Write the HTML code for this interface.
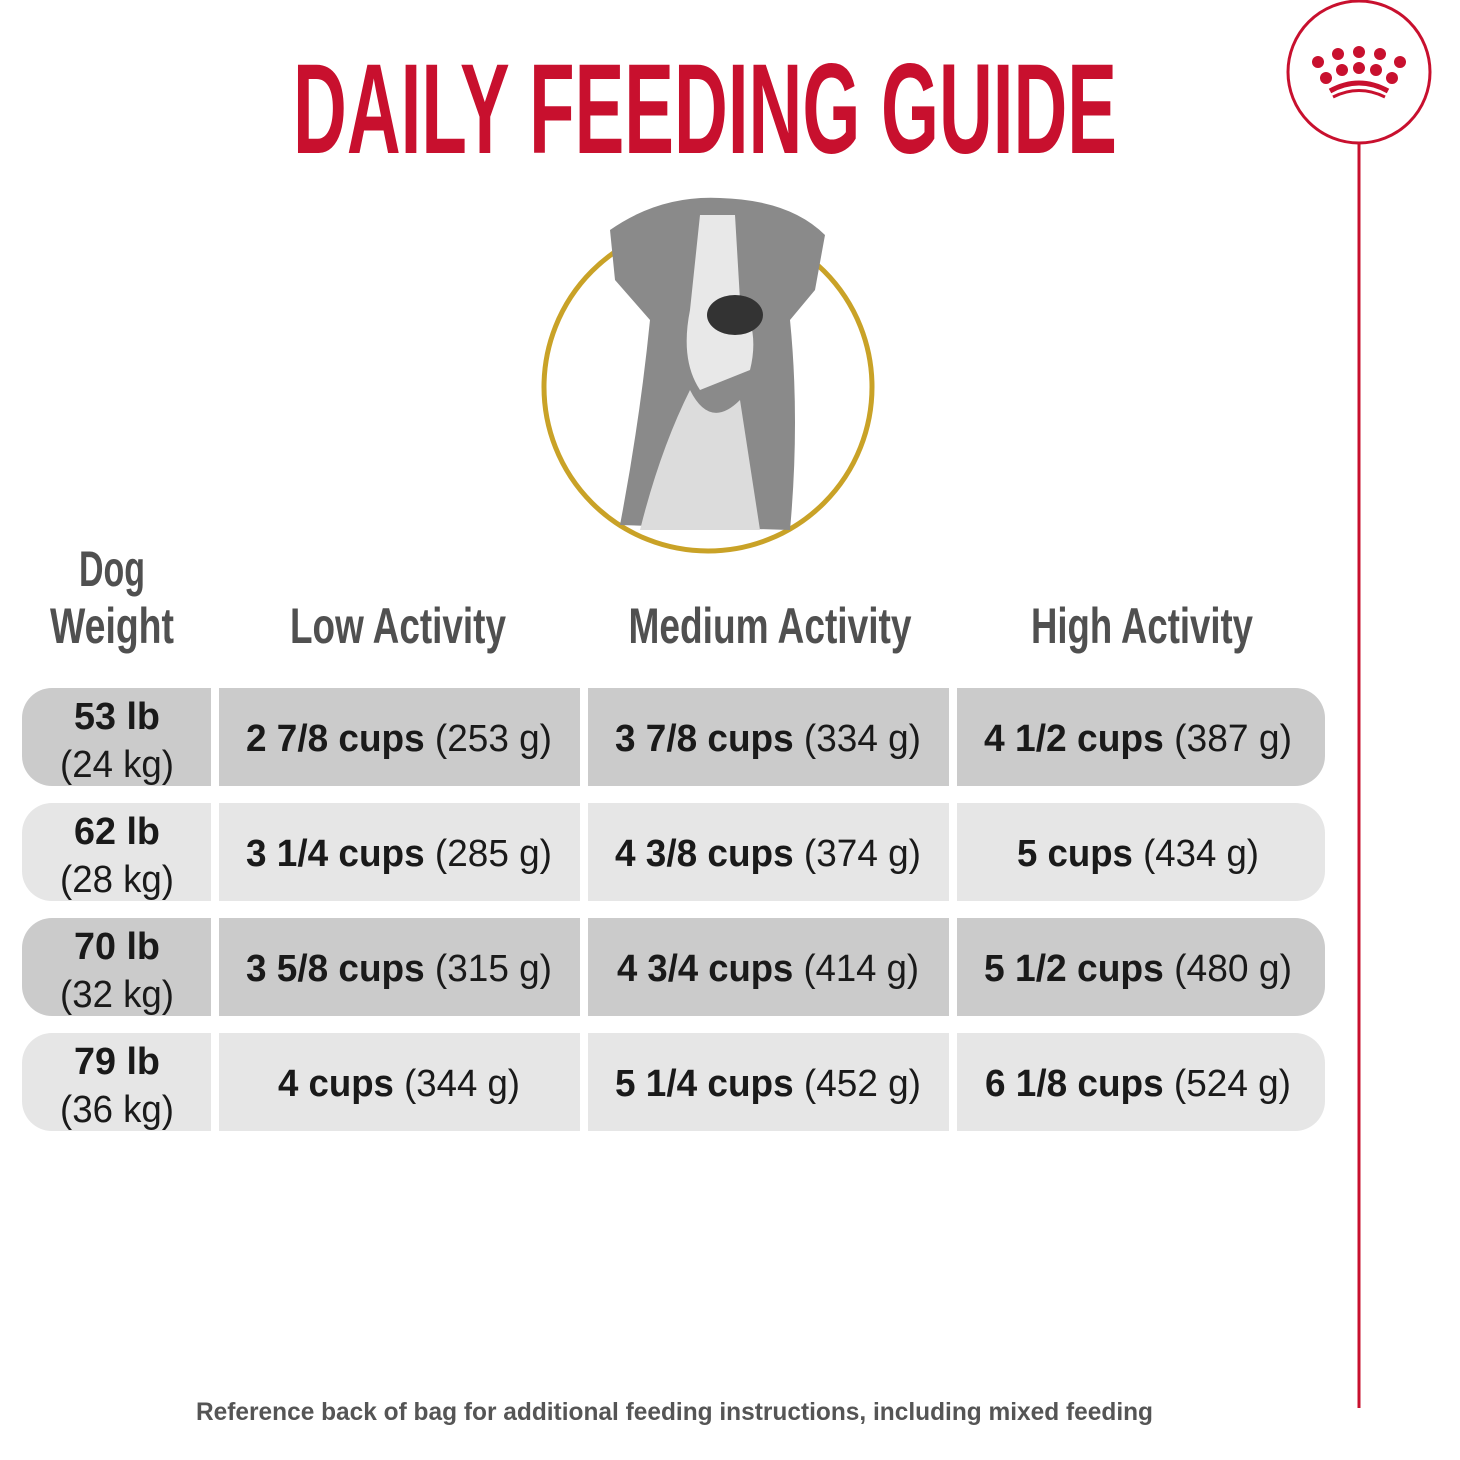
<!DOCTYPE html>
<html><head><meta charset="utf-8"><style>body{margin:0;background:#fff}svg{display:block}</style></head><body>
<svg width="1460" height="1460" viewBox="0 0 1460 1460" xmlns="http://www.w3.org/2000/svg" font-family="Liberation Sans, sans-serif">
<rect width="1460" height="1460" fill="#fff"/>
<text x="293" y="153" font-size="128" font-weight="bold" fill="#c8102e" textLength="824" lengthAdjust="spacingAndGlyphs">DAILY FEEDING GUIDE</text>
<circle cx="1359" cy="72" r="71" fill="none" stroke="#c8102e" stroke-width="3"/>
<line x1="1359" y1="143" x2="1359" y2="1408" stroke="#c8102e" stroke-width="3"/>
<g fill="#c8102e">
<circle cx="1318" cy="62" r="6"/><circle cx="1338" cy="54" r="6"/><circle cx="1359" cy="52" r="6"/><circle cx="1380" cy="54" r="6"/><circle cx="1400" cy="62" r="6"/>
<circle cx="1326" cy="78" r="6"/><circle cx="1342" cy="70" r="6"/><circle cx="1359" cy="68" r="6"/><circle cx="1376" cy="70" r="6"/><circle cx="1392" cy="78" r="6"/>
</g>
<path d="M1330 91 Q1359 75 1388 91" fill="none" stroke="#c8102e" stroke-width="5"/>
<path d="M1333 97 Q1359 84 1385 97" fill="none" stroke="#c8102e" stroke-width="3"/>
<circle cx="708" cy="387" r="164" fill="#fff" stroke="#c9a227" stroke-width="5"/>
<path d="M610 230 Q660 195 720 198 Q790 200 825 235 L815 290 L790 320 Q800 420 790 530 L620 525 Q640 420 650 320 L615 280 Z" fill="#8a8a8a"/>
<path d="M700 215 L735 215 L740 300 Q760 330 750 370 L700 390 Q680 360 690 310 Z" fill="#e8e8e8"/>
<path d="M690 390 Q710 430 740 400 L760 530 L640 530 Q660 450 690 390Z" fill="#dcdcdc"/>
<ellipse cx="735" cy="315" rx="28" ry="20" fill="#333"/>
<g fill="#505050" font-size="50" font-weight="bold" text-anchor="middle">
<text x="112" y="586" textLength="66" lengthAdjust="spacingAndGlyphs">Dog</text>
<text x="112" y="643" textLength="124" lengthAdjust="spacingAndGlyphs">Weight</text>
<text x="398" y="643" textLength="216" lengthAdjust="spacingAndGlyphs">Low Activity</text>
<text x="770" y="643" textLength="283" lengthAdjust="spacingAndGlyphs">Medium Activity</text>
<text x="1142" y="643" textLength="222" lengthAdjust="spacingAndGlyphs">High Activity</text>
</g>
<g>
<path d="M52 688 H211 V786 H52 A30 30 0 0 1 22 756 V718 A30 30 0 0 1 52 688Z" fill="#cbcbcb"/>
<rect x="219" y="688" width="361" height="98" fill="#cbcbcb"/>
<rect x="588" y="688" width="361" height="98" fill="#cbcbcb"/>
<path d="M957 688 H1295 A30 30 0 0 1 1325 718 V756 A30 30 0 0 1 1295 786 H957Z" fill="#cbcbcb"/>
<path d="M52 803 H211 V901 H52 A30 30 0 0 1 22 871 V833 A30 30 0 0 1 52 803Z" fill="#e6e6e6"/>
<rect x="219" y="803" width="361" height="98" fill="#e6e6e6"/>
<rect x="588" y="803" width="361" height="98" fill="#e6e6e6"/>
<path d="M957 803 H1295 A30 30 0 0 1 1325 833 V871 A30 30 0 0 1 1295 901 H957Z" fill="#e6e6e6"/>
<path d="M52 918 H211 V1016 H52 A30 30 0 0 1 22 986 V948 A30 30 0 0 1 52 918Z" fill="#cbcbcb"/>
<rect x="219" y="918" width="361" height="98" fill="#cbcbcb"/>
<rect x="588" y="918" width="361" height="98" fill="#cbcbcb"/>
<path d="M957 918 H1295 A30 30 0 0 1 1325 948 V986 A30 30 0 0 1 1295 1016 H957Z" fill="#cbcbcb"/>
<path d="M52 1033 H211 V1131 H52 A30 30 0 0 1 22 1101 V1063 A30 30 0 0 1 52 1033Z" fill="#e6e6e6"/>
<rect x="219" y="1033" width="361" height="98" fill="#e6e6e6"/>
<rect x="588" y="1033" width="361" height="98" fill="#e6e6e6"/>
<path d="M957 1033 H1295 A30 30 0 0 1 1325 1063 V1101 A30 30 0 0 1 1295 1131 H957Z" fill="#e6e6e6"/>
</g>
<g fill="#1a1a1a" font-size="38" text-anchor="middle">
<text x="117" y="729" font-weight="bold" textLength="86" lengthAdjust="spacingAndGlyphs">53 lb</text>
<text x="117" y="777" textLength="114" lengthAdjust="spacingAndGlyphs">(24 kg)</text>
<text x="117" y="844" font-weight="bold" textLength="86" lengthAdjust="spacingAndGlyphs">62 lb</text>
<text x="117" y="892" textLength="114" lengthAdjust="spacingAndGlyphs">(28 kg)</text>
<text x="117" y="959" font-weight="bold" textLength="86" lengthAdjust="spacingAndGlyphs">70 lb</text>
<text x="117" y="1007" textLength="114" lengthAdjust="spacingAndGlyphs">(32 kg)</text>
<text x="117" y="1074" font-weight="bold" textLength="86" lengthAdjust="spacingAndGlyphs">79 lb</text>
<text x="117" y="1122" textLength="114" lengthAdjust="spacingAndGlyphs">(36 kg)</text>
<text x="399" y="751" textLength="306" lengthAdjust="spacingAndGlyphs"><tspan font-weight="bold">2 7/8 cups</tspan> (253 g)</text>
<text x="768" y="751" textLength="306" lengthAdjust="spacingAndGlyphs"><tspan font-weight="bold">3 7/8 cups</tspan> (334 g)</text>
<text x="1138" y="751" textLength="308" lengthAdjust="spacingAndGlyphs"><tspan font-weight="bold">4 1/2 cups</tspan> (387 g)</text>
<text x="399" y="866" textLength="306" lengthAdjust="spacingAndGlyphs"><tspan font-weight="bold">3 1/4 cups</tspan> (285 g)</text>
<text x="768" y="866" textLength="306" lengthAdjust="spacingAndGlyphs"><tspan font-weight="bold">4 3/8 cups</tspan> (374 g)</text>
<text x="1138" y="866" textLength="242" lengthAdjust="spacingAndGlyphs"><tspan font-weight="bold">5 cups</tspan> (434 g)</text>
<text x="399" y="981" textLength="306" lengthAdjust="spacingAndGlyphs"><tspan font-weight="bold">3 5/8 cups</tspan> (315 g)</text>
<text x="768" y="981" textLength="302" lengthAdjust="spacingAndGlyphs"><tspan font-weight="bold">4 3/4 cups</tspan> (414 g)</text>
<text x="1138" y="981" textLength="308" lengthAdjust="spacingAndGlyphs"><tspan font-weight="bold">5 1/2 cups</tspan> (480 g)</text>
<text x="399" y="1096" textLength="242" lengthAdjust="spacingAndGlyphs"><tspan font-weight="bold">4 cups</tspan> (344 g)</text>
<text x="768" y="1096" textLength="306" lengthAdjust="spacingAndGlyphs"><tspan font-weight="bold">5 1/4 cups</tspan> (452 g)</text>
<text x="1138" y="1096" textLength="306" lengthAdjust="spacingAndGlyphs"><tspan font-weight="bold">6 1/8 cups</tspan> (524 g)</text>
</g>
<text x="196" y="1420" font-size="25" font-weight="bold" fill="#555" textLength="957" lengthAdjust="spacingAndGlyphs">Reference back of bag for additional feeding instructions, including mixed feeding</text>
</svg>
</body></html>
